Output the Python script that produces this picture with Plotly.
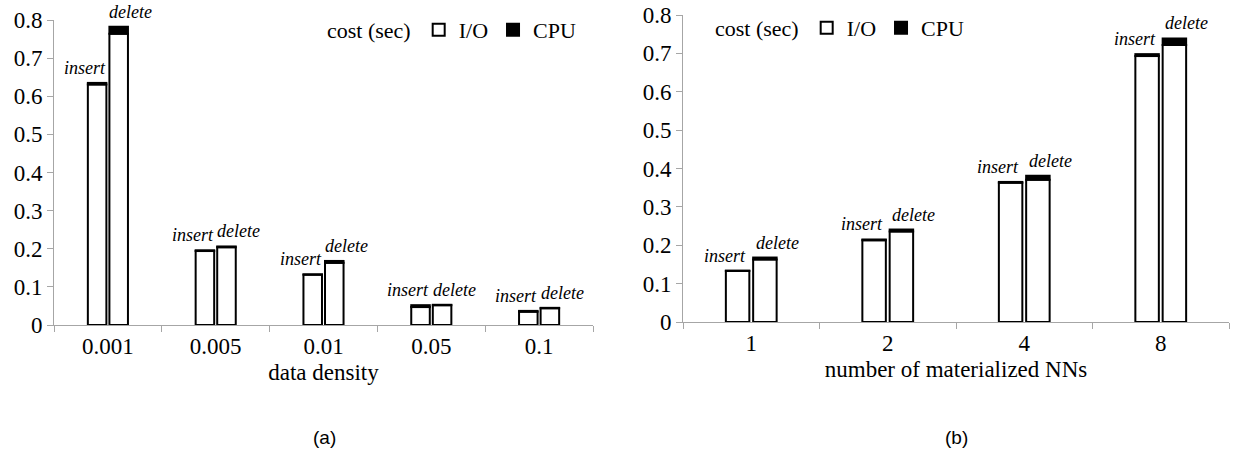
import plotly.graph_objects as go

# (a) update cost vs. data density
density = ["0.001", "0.005", "0.01", "0.05", "0.1"]
density_insert_io = [0.631, 0.194, 0.132, 0.047, 0.035]
density_insert_cpu = [0.004, 0.002, 0.001, 0.005, 0.002]
density_delete_io = [0.764, 0.204, 0.163, 0.052, 0.044]
density_delete_cpu = [0.018, 0.002, 0.005, 0.001, 0.001]

# (b) update cost vs. number of materialized NNs
nns = ["1", "2", "4", "8"]
nns_insert_io = [0.133, 0.213, 0.363, 0.693]
nns_insert_cpu = [0.001, 0.002, 0.002, 0.005]
nns_delete_io = [0.163, 0.236, 0.371, 0.722]
nns_delete_cpu = [0.005, 0.005, 0.010, 0.017]

y_ticks = [0, 0.1, 0.2, 0.3, 0.4, 0.5, 0.6, 0.7, 0.8]

SERIF = "Liberation Serif, Times New Roman, serif"
SANS = "Liberation Sans, Arial, sans-serif"
AXIS_GRAY = "#a6a6a6"
W, H = 1240, 452

io_marker = dict(color="white", line=dict(color="black", width=2))
cpu_marker = dict(color="black", line=dict(color="black", width=2))

fig = go.Figure()


def add_panel(cats, ins_io, ins_cpu, del_io, del_cpu, xa, ya, legend_name):
    for group, io, cpu in (("insert", ins_io, ins_cpu), ("delete", del_io, del_cpu)):
        first = group == "insert"
        fig.add_trace(go.Bar(
            x=cats, y=io, offsetgroup=group, name="I/O", marker=io_marker,
            xaxis=xa, yaxis=ya, legend=legend_name, showlegend=first,
            legendrank=1,
        ))
        fig.add_trace(go.Bar(
            x=cats, y=cpu, base=io, offsetgroup=group, name="CPU", marker=cpu_marker,
            xaxis=xa, yaxis=ya, legend=legend_name, showlegend=first,
            legendrank=2,
        ))


add_panel(density, density_insert_io, density_insert_cpu,
          density_delete_io, density_delete_cpu, "x", "y", "legend")
add_panel(nns, nns_insert_io, nns_insert_cpu,
          nns_delete_io, nns_delete_cpu, "x2", "y2", "legend2")

# operation labels above each bar (x given as the category index)
annotations = []
panels = [
    ("x", "y", density, density_insert_io, density_insert_cpu,
     density_delete_io, density_delete_cpu, 23),
    ("x2", "y2", nns, nns_insert_io, nns_insert_cpu,
     nns_delete_io, nns_delete_cpu, 26),
]
for xa, ya, cats, iio, icpu, dio, dcpu, shift in panels:
    for i in range(len(cats)):
        for label, top, sx in (("insert", iio[i] + icpu[i], -shift),
                               ("delete", dio[i] + dcpu[i], shift)):
            annotations.append(dict(
                x=i, y=top, xref=xa, yref=ya, text=label, showarrow=False,
                xanchor="center", yanchor="bottom", xshift=sx, yshift=4,
                borderpad=0,
                font=dict(family=SERIF, size=18, color="black", style="italic"),
            ))

annotations.append(dict(x=324 / W, y=1 - 437 / H, xref="paper", yref="paper",
                        text="(a)", showarrow=False, xanchor="center", yanchor="middle",
                        font=dict(family=SANS, size=19, color="black")))
annotations.append(dict(x=956 / W, y=1 - 437 / H, xref="paper", yref="paper",
                        text="(b)", showarrow=False, xanchor="center", yanchor="middle",
                        font=dict(family=SANS, size=19, color="black")))

tick_font = dict(family=SERIF, size=23, color="black")
title_font = dict(family=SERIF, size=23, color="black")


def xaxis(domain, anchor, title, n):
    return dict(
        domain=domain, anchor=anchor, type="category", range=[-0.5, n - 0.5],
        showline=True, linecolor=AXIS_GRAY, linewidth=1,
        ticks="outside", tickson="boundaries", ticklen=6, tickcolor=AXIS_GRAY,
        tickfont=tick_font, showgrid=False, automargin=False,
        title=dict(text=title, font=title_font, standoff=6),
    )


def yaxis(domain, anchor):
    return dict(
        domain=domain, anchor=anchor, range=[0, 0.8], tickvals=y_ticks,
        showline=True, linecolor=AXIS_GRAY, linewidth=1,
        ticks="outside", ticklen=6, tickcolor=AXIS_GRAY,
        tickfont=tick_font, showgrid=False, zeroline=False, automargin=False,
    )


def legend(x, y):
    return dict(
        x=x, y=y, xanchor="left", yanchor="middle", orientation="h",
        bgcolor="rgba(0,0,0,0)", borderwidth=0,
        title=dict(text="cost (sec)", side="left", font=dict(family=SERIF, size=22, color="black")),
        font=dict(family=SERIF, size=22, color="black"),
        itemwidth=30, traceorder="normal",
    )


fig.update_layout(
    width=W, height=H,
    margin=dict(l=0, r=0, t=0, b=0),
    paper_bgcolor="white", plot_bgcolor="white",
    barmode="group", bargap=0.6, bargroupgap=0.14,
    xaxis=xaxis([54 / W, 593 / W], "y", "data density", len(density)),
    yaxis=yaxis([1 - 325 / H, 1 - 20 / H], "x"),
    xaxis2=xaxis([683 / W, 1229 / W], "y2", "number of materialized NNs", len(nns)),
    yaxis2=yaxis([1 - 322 / H, 1 - 15 / H], "x2"),
    legend=legend(325 / W, 1 - 30 / H),
    legend2=legend(713 / W, 1 - 28 / H),
    annotations=annotations,
    showlegend=True,
)

fig.write_html("out.html")
